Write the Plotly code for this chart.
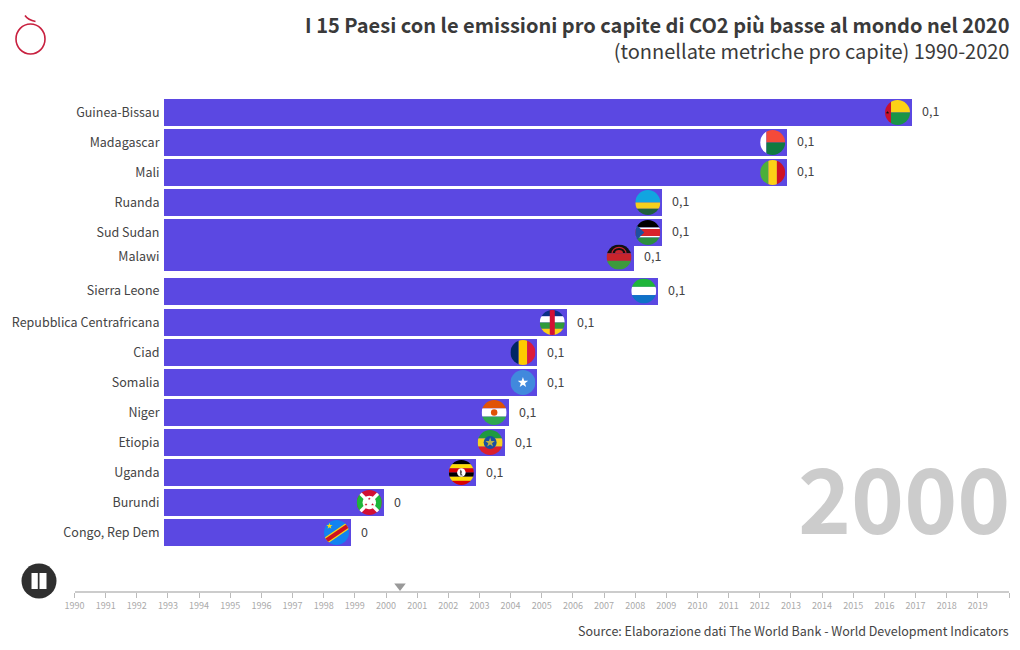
import math
import urllib.parse
import plotly.graph_objects as go

countries = ["Guinea-Bissau", "Madagascar", "Mali", "Ruanda", "Sud Sudan", "Malawi", "Sierra Leone",
             "Repubblica Centrafricana", "Ciad", "Somalia", "Niger", "Etiopia", "Uganda", "Burundi",
             "Congo, Rep Dem"]
values = [0.1300, 0.1083, 0.1083, 0.0866, 0.0866, 0.0816, 0.0859, 0.0700, 0.0649, 0.0649,
          0.0599, 0.0592, 0.0542, 0.0382, 0.0325]
ranks = [0, 1, 2, 3, 4, 4.82, 5.95, 7, 8, 9, 10, 11, 12, 13, 14]
years = list(range(1990, 2021))
current_time = 2000.45
year_label = "2000"
title = "I 15 Paesi con le emissioni pro capite di CO2 più basse al mondo nel 2020"
subtitle = "(tonnellate metriche pro capite) 1990-2020"
source = "Source: Elaborazione dati The World Bank - World Development Indicators"

W, H = 1020, 650
FONT = "Noto Sans CJK JP"
BAR = "#5b48e2"
PX_PER_UNIT = 5754  # horizontal scale
PX_PER_RANK = 30


def px(x): return x / W
def py(y): return 1 - y / H


def rect(x, y, w, h, c): return f'<rect x="{x}" y="{y}" width="{w}" height="{h}" fill="{c}"/>'


def star(cx, cy, r, c):
    pts = []
    for i in range(10):
        a = -math.pi / 2 + i * math.pi / 5
        rr = r if i % 2 == 0 else r * 0.4
        pts.append(f"{cx + rr * math.cos(a):.1f},{cy + rr * math.sin(a):.1f}")
    return f'<polygon points="{" ".join(pts)}" fill="{c}"/>'


flags = {
    "Guinea-Bissau": rect(0, 0, 24, 100, "#c8102e") + rect(24, 0, 76, 50, "#fcd116") + rect(24, 50, 76, 50, "#1a9447") + star(10, 50, 7, "#111"),
    "Madagascar": rect(0, 0, 25, 100, "#fff") + rect(25, 0, 75, 50, "#f44a3a") + rect(25, 50, 75, 50, "#107a40"),
    "Mali": rect(0, 0, 33, 100, "#4caf3a") + rect(33, 0, 34, 100, "#fcd116") + rect(67, 0, 33, 100, "#ce1126"),
    "Ruanda": rect(0, 0, 100, 50, "#11a5e0") + rect(0, 50, 100, 25, "#f5cf1c") + rect(0, 75, 100, 25, "#20603d"),
    "Sud Sudan": rect(0, 0, 100, 30, "#000") + rect(0, 30, 100, 6, "#fff") + rect(0, 36, 100, 28, "#d8222a") + rect(0, 64, 100, 6, "#fff") + rect(0, 70, 100, 30, "#2b8f3f")
        + '<polygon points="0,15 36,50 0,85" fill="#1f4fa0"/>',
    "Malawi": rect(0, 0, 100, 35, "#111") + '<path d="M22 35 A28 24 0 0 1 78 35" fill="none" stroke="#c8242c" stroke-width="5"/><path d="M34 35 A16 13 0 0 1 66 35" fill="#c8242c"/>' + rect(0, 35, 100, 30, "#c8242c") + rect(0, 65, 100, 35, "#3d9a3c"),
    "Sierra Leone": rect(0, 0, 100, 33.5, "#1eb53a") + rect(0, 33.5, 100, 33, "#fff") + rect(0, 66.5, 100, 33.5, "#0f72c7"),
    "Repubblica Centrafricana": rect(0, 0, 100, 25, "#0b2f86") + rect(0, 25, 100, 25, "#fff") + rect(0, 50, 100, 25, "#2f9a3b") + rect(0, 75, 100, 25, "#fcd116") + rect(40, 0, 20, 100, "#d21034"),
    "Ciad": rect(0, 0, 33, 100, "#002664") + rect(33, 0, 34, 100, "#fecb00") + rect(67, 0, 33, 100, "#dc1a3c"),
    "Somalia": rect(0, 0, 100, 100, "#4189dd") + star(50, 50, 22, "#fff"),
    "Niger": rect(0, 0, 100, 33.5, "#e05206") + rect(0, 33.5, 100, 33, "#fff") + rect(0, 66.5, 100, 33.5, "#2fa84f") + '<circle cx="50" cy="50" r="13" fill="#e05206"/>',
    "Etiopia": rect(0, 0, 100, 33.5, "#1f9a3f") + rect(0, 33.5, 100, 33, "#f5d21f") + rect(0, 66.5, 100, 33.5, "#da1f2d") + '<circle cx="50" cy="50" r="26" fill="#1a4fa0"/>' + star(50, 50, 20, "#b8b04a"),
    "Uganda": "".join(rect(0, i * 100 / 6, 100, 100 / 6 + 0.5, c) for i, c in enumerate(["#000", "#fcdc04", "#d90000", "#000", "#fcdc04", "#d90000"])) + '<circle cx="50" cy="50" r="17" fill="#fff"/><path d="M46 38 q10 8 4 16 l6 8 h-10 l-2 -12z" fill="#555"/>',
    "Burundi": rect(0, 0, 100, 100, "#d21034") + '<polygon points="0,0 50,50 0,100" fill="#1eb53a"/><polygon points="100,0 50,50 100,100" fill="#1eb53a"/>'
        + '<path d="M0 0 L100 100 M100 0 L0 100" stroke="#fff" stroke-width="13"/><circle cx="50" cy="50" r="27" fill="#fff"/>'
        + star(50, 35, 6, "#c8102e") + star(37, 58, 6, "#c8102e") + star(63, 58, 6, "#c8102e"),
    "Congo, Rep Dem": rect(0, 0, 100, 100, "#1283f0") + '<path d="M0 88 L100 20" stroke="#f7d618" stroke-width="26"/><path d="M0 88 L100 20" stroke="#ce1021" stroke-width="16"/>' + star(22, 24, 13, "#f7d618"),
}


def flag_uri(body):
    svg = ('<svg xmlns="http://www.w3.org/2000/svg" viewBox="0 0 100 100" width="100" height="100">'
           '<defs><clipPath id="c"><circle cx="50" cy="50" r="50"/></clipPath></defs>'
           f'<g clip-path="url(#c)">{body}</g></svg>')
    return "data:image/svg+xml;charset=utf-8," + urllib.parse.quote(svg)


fig = go.Figure()
fig.add_trace(go.Bar(y=ranks, x=values, orientation="h", width=0.9,
                     marker=dict(color=BAR, line=dict(width=0)), hoverinfo="skip",
                     xaxis="x", yaxis="y", showlegend=False))
fig.add_trace(go.Scatter(x=[current_time], y=[0.5], mode="markers", xaxis="x2", yaxis="y2",
                         marker=dict(symbol="triangle-down", size=10, color="#999999"),
                         hoverinfo="skip", showlegend=False))


def value_text(v):
    s = f"{v:.1f}".replace(".", ",")
    return "0" if s == "0,0" else s


annotations = []
images = []
for name, v, r in zip(countries, values, ranks):
    annotations.append(dict(x=v, y=r - 0.05, xref="x", yref="y", xanchor="left", yanchor="middle",
                            xshift=8, showarrow=False, text=value_text(v),
                            font=dict(family=FONT, size=12.5, color="#444444")))
    images.append(dict(source=flag_uri(flags[name]), xref="x", yref="y",
                       x=v - 2 / PX_PER_UNIT, y=r, xanchor="right", yanchor="middle",
                       sizex=25 / PX_PER_UNIT, sizey=25 / PX_PER_RANK, sizing="stretch", layer="above"))

annotations += [
    dict(x=px(1011), y=py(37.5), xref="paper", yref="paper", xanchor="right", yanchor="middle", showarrow=False,
         align="right", text=f"<b>{title}</b><br>{subtitle}", font=dict(family=FONT, size=20, color="#3a3a3a")),
    dict(x=px(1011), y=py(630.5), xref="paper", yref="paper", xanchor="right", yanchor="middle", showarrow=False,
         text=source, font=dict(family=FONT, size=12.5, color="#444444")),
    dict(x=px(1012), y=py(495), xref="paper", yref="paper", xanchor="right", yanchor="middle", showarrow=False,
         text=f"<b>{year_label}</b>", font=dict(family=FONT, size=90, color="#cccccc")),
]

shapes = [
    dict(type="circle", xref="paper", yref="paper", x0=px(16), x1=px(45), y0=py(24), y1=py(54),
         line=dict(color="#c8203f", width=1.6)),
    dict(type="path", xref="paper", yref="paper",
         path=f"M {px(25)} {py(15.5)} Q {px(28)} {py(20)} {px(35.5)} {py(21.5)}",
         line=dict(color="#c8203f", width=1.6)),
    dict(type="circle", xref="paper", yref="paper", x0=px(21.5), x1=px(56.5), y0=py(563.5), y1=py(598.5),
         fillcolor="#2f2f2f", line=dict(width=0)),
    dict(type="rect", xref="paper", yref="paper", x0=px(31.5), x1=px(37.8), y0=py(573), y1=py(589),
         fillcolor="#ffffff", line=dict(width=0)),
    dict(type="rect", xref="paper", yref="paper", x0=px(39.5), x1=px(46.5), y0=py(573), y1=py(589),
         fillcolor="#ffffff", line=dict(width=0)),
]

fig.update_layout(
    width=W, height=H, margin=dict(l=0, r=0, t=0, b=0), paper_bgcolor="white", plot_bgcolor="white",
    showlegend=False, bargap=0, barmode="overlay",
    annotations=annotations, images=images, shapes=shapes,
    xaxis=dict(domain=[px(164), 1], range=[0, (W - 164) / PX_PER_UNIT], visible=False, fixedrange=True, anchor="y",
               automargin=False),
    yaxis=dict(domain=[py(555), py(90)], range=[14.75, -0.75], anchor="x", tickmode="array", tickvals=ranks,
               ticktext=countries, ticks="outside", ticklen=1, tickcolor="rgba(0,0,0,0)", showgrid=False,
               zeroline=False, showline=False, fixedrange=True, automargin=False,
               tickfont=dict(family=FONT, size=12.5, color="#444444")),
    xaxis2=dict(domain=[px(74.5), px(1009)], range=[years[0], years[-1]], anchor="y2", tickmode="array",
                tickvals=years, ticktext=[str(y) if y < 2020 else "" for y in years], ticks="outside", ticklen=5,
                tickcolor="#bbbbbb", tickwidth=1, showline=True, linecolor="#cccccc", linewidth=2, showgrid=False,
                zeroline=False, fixedrange=True, tickangle=0, automargin=False,
                tickfont=dict(family=FONT, size=9, color="#aaaaaa")),
    yaxis2=dict(domain=[py(591), py(581)], range=[0, 1], anchor="x2", visible=False, fixedrange=True,
                automargin=False),
)
fig.write_html("out.html", post_script="document.body.style.margin='0';",
               config=dict(displayModeBar=False))
